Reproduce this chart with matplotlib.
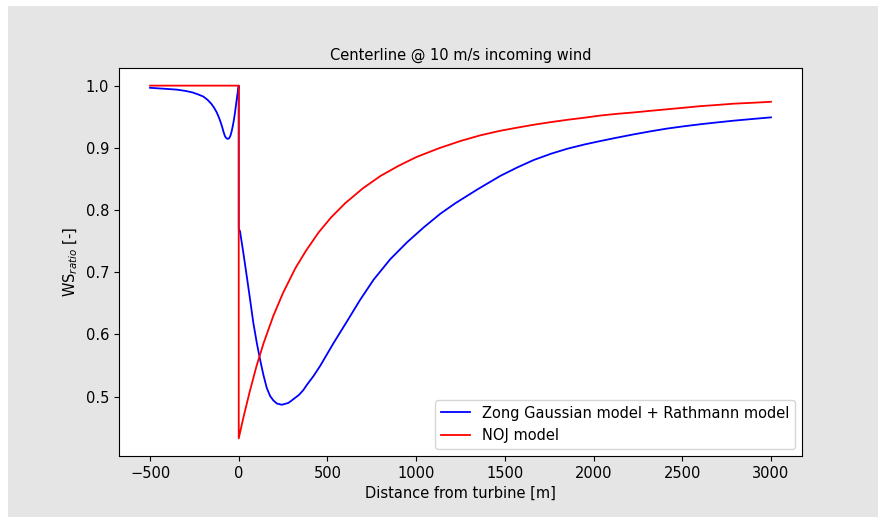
import matplotlib
matplotlib.use("Agg")
import matplotlib.pyplot as plt
from matplotlib.patches import Rectangle

# Zong Gaussian + Rathmann model (blue)
zong_x = [-500, -420, -350, -300, -260, -230, -200, -175, -155, -140, -125, -112,
          -100, -92, -85, -78, -72, -66, -60, -54, -47, -40, -33, -27, -21, -15,
          -9, -4, 0, 0, 7, 26, 45, 64, 82, 102, 120, 139, 158, 177, 195, 215, 243,
          280, 308, 340, 365, 384, 421, 459, 534, 610, 685, 760, 854, 948, 1042,
          1136, 1221, 1350, 1475, 1570, 1663, 1760, 1851, 1950, 2039, 2130, 2227,
          2320, 2415, 2510, 2604, 2700, 2791, 2900, 3000]
zong_y = [0.9965, 0.995, 0.9936, 0.9915, 0.989, 0.986, 0.9825, 0.977, 0.971, 0.965,
          0.9575, 0.949, 0.9395, 0.932, 0.925, 0.919, 0.9163, 0.9148, 0.9145,
          0.9155, 0.9195, 0.9265, 0.936, 0.9455, 0.957, 0.970, 0.983, 0.993, 1.0,
          0.77, 0.766, 0.731, 0.694, 0.656, 0.619, 0.586, 0.560, 0.535, 0.514,
          0.501, 0.494, 0.489, 0.487, 0.490, 0.496, 0.503, 0.511, 0.519, 0.533,
          0.5495, 0.586, 0.621, 0.656, 0.688, 0.721, 0.748, 0.772, 0.794, 0.811,
          0.834, 0.855, 0.8685, 0.8805, 0.8905, 0.8985, 0.9055, 0.911, 0.9163,
          0.9217, 0.9265, 0.931, 0.9347, 0.938, 0.941, 0.9437, 0.9465, 0.949]

# NOJ model (red)
noj_x = [-500, 0, 0, 25, 60, 100, 140, 195, 250, 320, 380, 450, 520, 600, 700,
         800, 900, 1000, 1125, 1250, 1360, 1475, 1570, 1660, 1750, 1850, 1950,
         2040, 2130, 2230, 2320, 2415, 2510, 2600, 2700, 2790, 2900, 3000]
noj_y = [1.0, 1.0, 0.433, 0.465, 0.506, 0.549, 0.586, 0.630, 0.667, 0.707, 0.735,
         0.764, 0.788, 0.811, 0.835, 0.855, 0.871, 0.885, 0.899, 0.911, 0.920,
         0.9275, 0.9325, 0.937, 0.941, 0.945, 0.9485, 0.952, 0.9546, 0.957,
         0.9595, 0.962, 0.9645, 0.967, 0.969, 0.971, 0.9725, 0.974]

labels = ["Zong Gaussian model + Rathmann model", "NOJ model"]
title = "Centerline @ 10 m/s incoming wind"
xlabel = "Distance from turbine [m]"
ylabel = "WS$_{ratio}$ [-]"

fs = 10.5
fig = plt.figure(figsize=(8.79, 5.17), dpi=100, facecolor="white")
fig.patches.append(Rectangle((8 / 879, 0), 1 - 8 / 879, 1 - 6 / 517,
                             transform=fig.transFigure, facecolor="#e5e5e5",
                             edgecolor="none", zorder=-10))
ax = fig.add_axes([119 / 879, 1 - 456 / 517, (802 - 119) / 879, (456 - 68) / 517])
ax.plot(zong_x, zong_y, color="blue", lw=1.3, label=labels[0])
ax.plot(noj_x, noj_y, color="red", lw=1.3, label=labels[1])
ax.set_title(title, fontsize=fs)
ax.set_xlabel(xlabel, fontsize=fs)
ax.set_ylabel(ylabel, fontsize=fs)
ax.tick_params(labelsize=fs)
ax.legend(loc="lower right", fontsize=fs)
fig.savefig("out.png", dpi=100, facecolor=fig.get_facecolor())
